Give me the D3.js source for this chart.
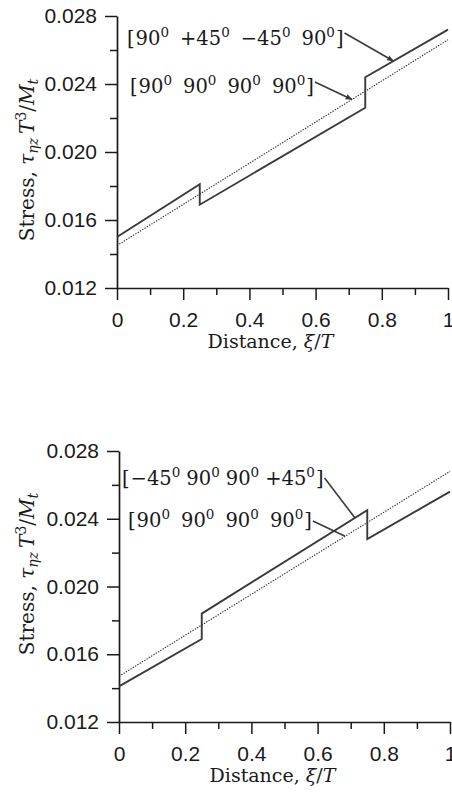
<!DOCTYPE html>
<html>
<head>
<meta charset="utf-8">
<script src="https://cdn.jsdelivr.net/npm/d3@7"></script>
<style>
  html, body { margin: 0; padding: 0; background: #fff; }
  svg { display: block; }
</style>
</head>
<body>
<svg id="chart" width="452" height="794"></svg>
<script>
// Positions across the section, ξ/T (a repeated value marks a ply interface jump)
const distance = [0, 0.25, 0.25, 0.75, 0.75, 1];
const distanceIso = [0, 1];

// Upper panel: [90 +45 −45 90] laminate and the all-90 reference
const stressUpperLaminate = [0.0150, 0.0181, 0.0169, 0.0226, 0.0244, 0.0272];
const stressUpperIso = [0.0145, 0.0266];

// Lower panel: [−45 90 90 +45] laminate and the all-90 reference
const stressLowerLaminate = [0.0141, 0.0169, 0.0184, 0.0245, 0.0228, 0.0256];
const stressLowerIso = [0.0147, 0.0268];

// Ply stacking sequences (each angle written with a superscript 0)
const stackUpper = ["90", "+45", "\u221245", "90"];
const stackLower = ["\u221245", "90", "90", "+45"];
const stackIso = ["90", "90", "90", "90"];

// Where each leader line meets its curve (ξ/T)
const leaderUpper = { laminate: 0.835, iso: 0.71 };
const leaderLower = { laminate: 0.713, iso: 0.683 };

const xTicks = [0, 0.2, 0.4, 0.6, 0.8, 1];
const xTickLabels = ["0", "0.2", "0.4", "0.6", "0.8", "1"];
const xMinorTicks = [0.1, 0.3, 0.5, 0.7, 0.9];
const yTicks = [0.012, 0.016, 0.020, 0.024, 0.028];
const yTickLabels = ["0.012", "0.016", "0.020", "0.024", "0.028"];
const yMinorTicks = [0.014, 0.018, 0.022, 0.026];

const SANS = "'Liberation Sans', Arial, Helvetica, sans-serif";
const SERIF = "'DejaVu Serif', 'Liberation Serif', serif";
const INK = "#1a1a1a";
const LINE = "#3a3a3a";

const svg = d3.select("#chart");

svg.append("defs").append("marker")
  .attr("id", "arrow")
  .attr("viewBox", "0 0 10 10")
  .attr("refX", 9).attr("refY", 5)
  .attr("markerWidth", 7).attr("markerHeight", 7)
  .attr("markerUnits", "userSpaceOnUse")
  .attr("orient", "auto")
  .append("path")
  .attr("d", "M0,1 L10,5 L0,9 Z")
  .attr("fill", LINE);

const panels = [
  {
    box: { left: 117, right: 448, top: 16, bottom: 288 },
    laminate: stressUpperLaminate, iso: stressUpperIso,
    leaders: leaderUpper,
    notes: [
      { stack: stackUpper, x: 127, y: 45, gap: 11, curve: "laminate", lift: 12, arrow: true },
      { stack: stackIso, x: 130, y: 93, gap: 11, curve: "iso", lift: 11, arrow: true }
    ],
    titleY: 160
  },
  {
    box: { left: 119, right: 450, top: 451, bottom: 722 },
    laminate: stressLowerLaminate, iso: stressLowerIso,
    leaders: leaderLower,
    notes: [
      { stack: stackLower, x: 122, y: 485, gap: 6, curve: "laminate", lift: 7, arrow: false },
      { stack: stackIso, x: 128, y: 527, gap: 11, curve: "iso", lift: 6, arrow: false }
    ],
    titleY: 574
  }
];

// Piecewise-linear lookup along a polyline (first matching segment)
function valueAt(xs, ys, t) {
  for (let i = 0; i < xs.length - 1; i++) {
    const a = xs[i], b = xs[i + 1];
    if (b > a && t >= a && t <= b) {
      return ys[i] + (ys[i + 1] - ys[i]) * (t - a) / (b - a);
    }
  }
  return ys[ys.length - 1];
}

panels.forEach(p => {
  const { left, right, top, bottom } = p.box;
  const x = d3.scaleLinear().domain([0, 1]).range([left, right]);
  const y = d3.scaleLinear().domain([0.012, 0.028]).range([bottom, top]);
  const g = svg.append("g");

  // Minor ticks
  g.append("g")
    .attr("transform", `translate(0,${bottom})`)
    .call(d3.axisBottom(x).tickValues(xMinorTicks).tickSize(7).tickSizeOuter(0).tickFormat(""))
    .call(s => s.select(".domain").remove());
  g.append("g")
    .attr("transform", `translate(${left},0)`)
    .call(d3.axisLeft(y).tickValues(yMinorTicks).tickSize(7).tickSizeOuter(0).tickFormat(""))
    .call(s => s.select(".domain").remove());

  // Major axes
  const xa = g.append("g")
    .attr("transform", `translate(0,${bottom})`)
    .call(d3.axisBottom(x).tickValues(xTicks).tickSize(12).tickSizeOuter(0).tickPadding(27)
      .tickFormat((d, i) => xTickLabels[i]));
  const ya = g.append("g")
    .attr("transform", `translate(${left},0)`)
    .call(d3.axisLeft(y).tickValues(yTicks).tickSize(12).tickSizeOuter(0).tickPadding(8)
      .tickFormat((d, i) => yTickLabels[i]));

  g.selectAll(".domain").attr("stroke", INK).attr("stroke-width", 1.7);
  g.selectAll(".tick line").attr("stroke", INK).attr("stroke-width", 1.5);
  [xa, ya].forEach(a => a.selectAll("text")
    .attr("font-family", SANS).attr("font-size", 21).attr("fill", INK));
  xa.selectAll("text").attr("dy", "0");

  // Reference (all 90°) distribution: fine dotted line
  const line = d3.line().x(d => x(d[0])).y(d => y(d[1]));
  g.append("path")
    .attr("d", line(distanceIso.map((d, i) => [d, p.iso[i]])))
    .attr("fill", "none").attr("stroke", "#2a2a2a")
    .attr("stroke-width", 1.15).attr("stroke-dasharray", "1.3,1.4");

  // Laminate distribution: solid line with jumps at the ply interfaces
  g.append("path")
    .attr("d", line(distance.map((d, i) => [d, p.laminate[i]])))
    .attr("fill", "none").attr("stroke", LINE)
    .attr("stroke-width", 1.9).attr("stroke-linejoin", "miter");

  // Stacking-sequence labels with leader lines
  p.notes.forEach(n => {
    const t = g.append("text")
      .attr("x", n.x).attr("y", n.y)
      .attr("font-family", SERIF).attr("font-size", 19.5).attr("fill", INK);
    t.append("tspan").text("[");
    n.stack.forEach((a, i) => {
      t.append("tspan").attr("dx", i === 0 ? 1 : n.gap).attr("dy", i === 0 ? 0 : 8).text(a);
      t.append("tspan").attr("dy", -8).attr("font-size", 13.5).text("0");
    });
    t.append("tspan").attr("dx", 1).attr("dy", 8).text("]");
    const bb = t.node().getBBox();
    const at = p.leaders[n.curve];
    const xs = n.curve === "laminate" ? distance : distanceIso;
    const ys = n.curve === "laminate" ? p.laminate : p.iso;
    const ld = g.append("line")
      .attr("x1", bb.x + bb.width + 1).attr("y1", n.y - n.lift)
      .attr("x2", x(at)).attr("y2", y(valueAt(xs, ys, at)))
      .attr("stroke", LINE).attr("stroke-width", 1.6);
    if (n.arrow) ld.attr("marker-end", "url(#arrow)");
  });

  // Axis titles
  const xt = g.append("text")
    .attr("x", (left + right) / 2 - 12).attr("y", bottom + 60)
    .attr("text-anchor", "middle")
    .attr("font-family", SERIF).attr("font-size", 19).attr("fill", INK);
  xt.append("tspan").text("Distance, ");
  xt.append("tspan").attr("font-style", "italic").text("\u03be");
  xt.append("tspan").text("/");
  xt.append("tspan").attr("font-style", "italic").text("T");

  const yt = g.append("text")
    .attr("transform", `translate(34,${p.titleY}) rotate(-90)`)
    .attr("text-anchor", "middle")
    .attr("font-family", SERIF).attr("font-size", 20).attr("fill", INK);
  yt.append("tspan").text("Stress, ");
  yt.append("tspan").attr("font-style", "italic").text("\u03c4");
  yt.append("tspan").attr("font-style", "italic").attr("font-size", 14).attr("dy", 4).text("\u03b7z");
  yt.append("tspan").attr("dy", -4).text("\u2009");
  yt.append("tspan").attr("font-style", "italic").text("T");
  yt.append("tspan").attr("font-size", 14).attr("dy", -8).text("3");
  yt.append("tspan").attr("dy", 8).text("/");
  yt.append("tspan").attr("font-style", "italic").text("M");
  yt.append("tspan").attr("font-style", "italic").attr("font-size", 14).attr("dy", 4).text("t");
});
</script>
</body>
</html>
